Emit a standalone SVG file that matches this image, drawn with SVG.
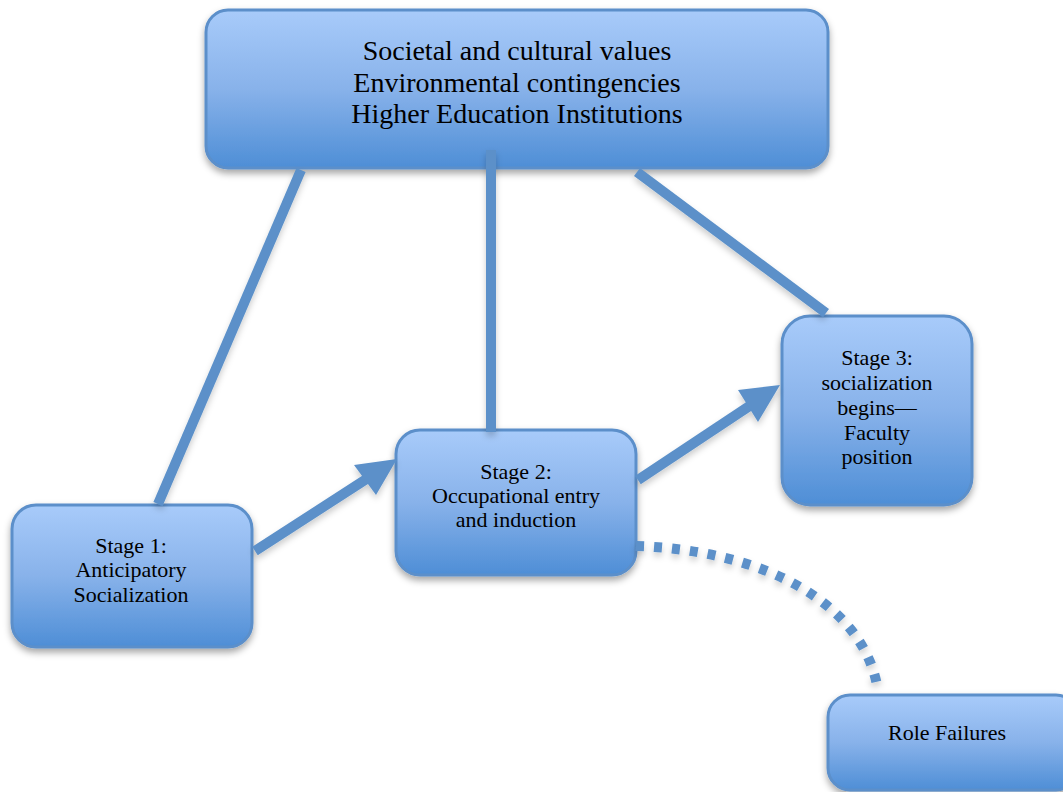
<svg xmlns="http://www.w3.org/2000/svg" width="1063" height="792" viewBox="0 0 1063 792">
<defs>
<linearGradient id="g" x1="0" y1="0" x2="0" y2="1">
<stop offset="0" stop-color="#a8cbfa"/>
<stop offset="0.5" stop-color="#88b2ea"/>
<stop offset="1" stop-color="#4e8ed6"/>
</linearGradient>
<filter id="sh" x="-20%" y="-20%" width="140%" height="150%">
<feDropShadow dx="0" dy="4" stdDeviation="3.5" flood-color="#000" flood-opacity="0.35"/>
</filter>
<filter id="lsh" x="-20%" y="-20%" width="140%" height="140%">
<feDropShadow dx="0" dy="4" stdDeviation="3" flood-color="#000" flood-opacity="0.2"/>
</filter>
</defs>
<style>
.box{fill:url(#g);stroke:#5b8fca;stroke-width:3;filter:url(#sh)}
.t{font-family:"Liberation Serif","Times New Roman",serif;font-size:22px;fill:#000;text-anchor:middle}
.tt{font-size:28px}
.c{stroke:#5b90c9;stroke-width:10;fill:none}
.ah{fill:#5b90c9;stroke:none}
</style>
<g id="top">
<rect class="box" x="206" y="10" width="622" height="158" rx="22"/>
<text class="t tt" x="517" y="60">Societal and cultural values</text>
<text class="t tt" x="517" y="92">Environmental contingencies</text>
<text class="t tt" x="517" y="123">Higher Education Institutions</text>
</g>
<g id="stage1">
<rect class="box" x="12" y="505" width="240" height="142" rx="24"/>
<text class="t" x="131" y="553">Stage 1:</text>
<text class="t" x="131" y="577">Anticipatory</text>
<text class="t" x="131" y="602">Socialization</text>
</g>
<g id="stage2">
<rect class="box" x="396" y="430" width="240" height="145" rx="24"/>
<text class="t" x="516" y="479">Stage 2:</text>
<text class="t" x="516" y="503">Occupational entry</text>
<text class="t" x="516" y="527">and induction</text>
</g>
<g id="stage3">
<rect class="box" x="782" y="316" width="190" height="189" rx="28"/>
<text class="t" x="877" y="365">Stage 3:</text>
<text class="t" x="877" y="390">socialization</text>
<text class="t" x="877" y="415">begins—</text>
<text class="t" x="877" y="440">Faculty</text>
<text class="t" x="877" y="464">position</text>
</g>
<g id="rolefailures">
<rect class="box" x="828" y="695" width="250" height="95" rx="22"/>
<text class="t" x="947" y="740">Role Failures</text>
</g>
<g id="connectors" filter="url(#lsh)">
<line class="c" x1="301" y1="170" x2="158" y2="504"/>
<line class="c" x1="491" y1="150" x2="491" y2="432"/>
<line class="c" x1="637" y1="172" x2="826" y2="313"/>
<line class="c" x1="255" y1="551" x2="368" y2="478"/>
<polygon class="ah" points="397,459 354,465 376,495"/>
<line class="c" x1="638" y1="480" x2="751" y2="405"/>
<polygon class="ah" points="780,385 738,390 758,422"/>
<path class="c" d="M636,546 C760,550 860,600 877,685" stroke-width="8" stroke-dasharray="8 10"/>
</g>
</svg>
